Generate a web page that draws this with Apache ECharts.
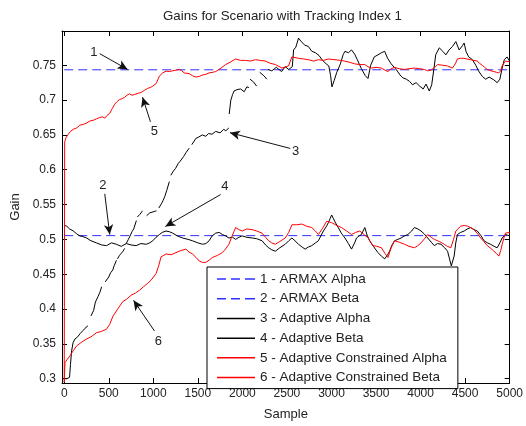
<!DOCTYPE html>
<html><head><meta charset="utf-8">
<script src="https://cdn.jsdelivr.net/npm/echarts@6/dist/echarts.min.js"></script>
<style>html,body{margin:0;padding:0;background:#fff}#c{width:526px;height:426px}</style>
</head><body><div id="c"></div>
<script>
const titleText = 'Gains for Scenario with Tracking Index 1';
const xTicks = [0,500,1000,1500,2000,2500,3000,3500,4000,4500,5000];
const yTicks = [0.3,0.35,0.4,0.45,0.5,0.55,0.6,0.65,0.7,0.75];
const seriesNames = ['1 - ARMAX Alpha','2 - ARMAX Beta','3 - Adaptive Alpha','4 - Adaptive Beta','5 - Adaptive Constrained Alpha','6 - Adaptive Constrained Beta'];

const armaxAlpha = [[0,0.7435],[5000,0.7435]];
const armaxBeta = [[0,0.5054],[5000,0.5054]];

const adaptiveAlpha = [
[0,0.300],[30,0.300],[60,0.302],[70,0.320],[83,0.340],[100,0.352],[121,0.357],[150,0.360],[180,0.365],[210,0.369],[230,0.372],[266,0.376],[280,'-'],
[300,0.390],[330,0.398],[350,0.410],[380,0.418],[400,0.424],[420,0.432],[440,'-'],
[460,0.439],[500,0.446],[520,0.452],[545,0.456],[560,0.462],[586,0.470],[593,'-'],
[598,0.472],[620,0.477],[640,0.480],[660,0.483],[678,0.487],[690,'-'],
[695,0.494],[720,0.500],[740,0.505],[760,0.511],[780,0.515],[810,0.527],[816,'-'],
[820,0.532],[850,0.536],[879,0.541],[900,'-'],
[925,0.534],[960,0.538],[980,0.537],[1010,0.540],[1035,0.541],[1050,'-'],
[1062,0.545],[1090,0.551],[1110,0.556],[1130,0.562],[1150,0.570],[1180,0.583],[1190,'-'],
[1196,0.592],[1225,0.598],[1250,0.602],[1280,0.609],[1300,0.612],[1340,0.619],[1369,0.625],[1403,0.631],[1420,'-'],
[1432,0.636],[1478,0.645],[1510,0.647],[1550,0.650],[1590,0.648],[1620,0.652],[1660,0.651],[1700,0.655],[1750,0.653],[1790,0.658],[1814,0.656],[1848,0.660],[1849,'-'],
[1852,0.680],[1870,0.700],[1890,0.708],[1906,0.713],[1940,0.715],[1980,0.716],[2020,0.712],[2050,0.719],[2073,0.718],[2080,'-'],
[2086,0.730],[2125,0.726],[2160,0.720],[2180,'-'],
[2194,0.740],[2240,0.735],[2275,0.730],[2283,'-'],
[2288,0.744],[2330,0.742],[2380,0.747],[2400,0.745],[2440,0.741],[2480,0.748],[2520,0.744],[2560,0.748],
[2575,0.772],[2600,0.776],[2630,0.789],[2660,0.784],[2700,0.779],[2740,0.777],[2780,0.770],[2820,0.768],[2860,0.764],[2900,0.757],[2940,0.752],[2970,0.749],[2990,0.735],[3005,0.719],[3030,0.728],[3060,0.740],[3100,0.752],[3130,0.765],[3151,0.770],[3190,0.768],[3225,0.772],[3260,0.766],[3290,0.758],[3336,0.745],[3380,0.735],[3410,0.731],[3440,0.750],[3480,0.762],[3522,0.765],[3560,0.768],[3597,0.770],[3630,0.760],[3670,0.752],[3726,0.744],[3770,0.736],[3801,0.732],[3840,0.730],[3875,0.727],[3910,0.722],[3950,0.725],[3990,0.720],[4030,0.716],[4061,0.723],[4098,0.713],[4125,0.722],[4150,0.745],[4170,0.765],[4210,0.775],[4250,0.770],[4284,0.765],[4320,0.772],[4358,0.777],[4396,0.784],[4433,0.772],[4470,0.778],[4489,0.782],[4510,0.770],[4540,0.762],[4582,0.758],[4620,0.750],[4650,0.742],[4693,0.734],[4730,0.730],[4770,0.733],[4823,0.729],[4860,0.725],[4890,0.730],[4916,0.746],[4940,0.758],[4970,0.762],[5000,0.756]
];

const adaptiveBeta = [
[0,0.520],[28,0.519],[60,0.515],[102,0.512],[140,0.508],[176,0.505],[210,0.504],[251,0.502],[300,0.498],[362,0.495],[420,0.492],[474,0.491],[530,0.495],[585,0.493],[640,0.490],[697,0.494],[750,0.492],[808,0.491],[860,0.494],[920,0.493],[960,0.495],[994,0.498],[1030,0.503],[1069,0.507],[1100,0.510],[1143,0.512],[1180,0.511],[1217,0.509],[1270,0.505],[1329,0.502],[1390,0.500],[1440,0.498],[1500,0.495],[1552,0.493],[1590,0.494],[1626,0.498],[1660,0.505],[1701,0.509],[1740,0.510],[1775,0.507],[1810,0.505],[1849,0.502],[1890,0.503],[1924,0.500],[1960,0.503],[1998,0.505],[2050,0.503],[2110,0.502],[2160,0.501],[2221,0.498],[2260,0.492],[2295,0.488],[2330,0.485],[2370,0.483],[2420,0.488],[2481,0.493],[2520,0.498],[2556,0.502],[2590,0.498],[2630,0.493],[2670,0.489],[2704,0.486],[2740,0.489],[2778,0.491],[2820,0.495],[2853,0.498],[2880,0.505],[2909,0.512],[2940,0.518],[2965,0.524],[2985,0.530],[3002,0.535],[3040,0.525],[3076,0.517],[3110,0.509],[3151,0.502],[3190,0.494],[3225,0.486],[3260,0.495],[3281,0.502],[3310,0.505],[3336,0.507],[3374,0.517],[3400,0.506],[3429,0.498],[3470,0.490],[3522,0.481],[3560,0.476],[3597,0.472],[3630,0.478],[3652,0.483],[3680,0.492],[3708,0.498],[3745,0.500],[3782,0.502],[3820,0.505],[3857,0.507],[3900,0.512],[3931,0.517],[3970,0.515],[4005,0.512],[4040,0.508],[4080,0.502],[4120,0.496],[4154,0.491],[4190,0.494],[4229,0.493],[4270,0.488],[4303,0.483],[4325,0.472],[4345,0.462],[4377,0.476],[4395,0.495],[4414,0.507],[4450,0.510],[4489,0.512],[4525,0.515],[4563,0.517],[4600,0.514],[4637,0.512],[4680,0.505],[4712,0.498],[4750,0.495],[4786,0.493],[4825,0.490],[4860,0.488],[4890,0.495],[4916,0.502],[4953,0.507],[5000,0.505]
];

const constrainedAlpha = [
[0,0.295],[5,0.640],[20,0.646],[45,0.651],[70,0.655],[100,0.658],[140,0.660],[175,0.664],[213,0.665],[250,0.667],[290,0.670],[325,0.671],[360,0.673],[399,0.675],[430,0.676],[455,0.674],[480,0.678],[511,0.681],[540,0.688],[566,0.694],[595,0.698],[622,0.701],[650,0.702],[678,0.704],[705,0.707],[734,0.709],[760,0.707],[790,0.708],[808,0.7075],[835,0.710],[864,0.711],[900,0.714],[938,0.717],[965,0.718],[994,0.720],[1031,0.7236],[1050,0.729],[1068,0.7344],[1085,0.737],[1105,0.739],[1143,0.7415],[1180,0.741],[1217,0.742],[1255,0.743],[1291,0.744],[1320,0.742],[1347,0.739],[1403,0.738],[1440,0.735],[1478,0.733],[1515,0.734],[1552,0.736],[1590,0.737],[1626,0.739],[1670,0.740],[1701,0.741],[1760,0.746],[1812,0.751],[1870,0.755],[1924,0.759],[1980,0.757],[2035,0.757],[2090,0.756],[2147,0.758],[2200,0.757],[2258,0.756],[2310,0.753],[2370,0.751],[2444,0.746],[2518,0.749],[2540,0.750],[2555,0.762],[2630,0.760],[2690,0.759],[2741,0.758],[2800,0.756],[2853,0.758],[2910,0.757],[2965,0.759],[3039,0.758],[3100,0.757],[3151,0.756],[3210,0.754],[3262,0.752],[3320,0.751],[3374,0.751],[3410,0.748],[3448,0.746],[3500,0.747],[3560,0.746],[3600,0.743],[3634,0.741],[3670,0.745],[3708,0.747],[3760,0.745],[3820,0.744],[3870,0.745],[3931,0.746],[3990,0.745],[4043,0.744],[4080,0.742],[4117,0.743],[4160,0.747],[4191,0.751],[4250,0.750],[4302,0.749],[4358,0.746],[4390,0.752],[4413,0.759],[4450,0.760],[4487,0.760],[4520,0.759],[4562,0.758],[4600,0.757],[4636,0.756],[4660,0.753],[4692,0.750],[4720,0.747],[4747,0.744],[4790,0.742],[4822,0.741],[4850,0.740],[4877,0.739],[4900,0.742],[4915,0.749],[4935,0.753],[4952,0.756],[5000,0.755]
];

const constrainedBeta = [
[0,0.295],[8,0.323],[30,0.327],[65,0.333],[100,0.340],[139,0.347],[190,0.352],[251,0.357],[300,0.360],[362,0.366],[420,0.368],[474,0.371],[510,0.378],[548,0.390],[600,0.400],[660,0.411],[700,0.414],[753,0.420],[800,0.423],[845,0.427],[890,0.432],[938,0.437],[985,0.443],[1031,0.451],[1060,0.462],[1087,0.475],[1143,0.479],[1200,0.478],[1254,0.481],[1310,0.484],[1366,0.486],[1400,0.482],[1440,0.479],[1480,0.474],[1515,0.469],[1550,0.467],[1589,0.467],[1625,0.470],[1663,0.474],[1720,0.477],[1775,0.481],[1810,0.486],[1849,0.493],[1885,0.505],[1924,0.517],[1960,0.514],[1998,0.512],[2050,0.515],[2110,0.514],[2160,0.512],[2221,0.509],[2260,0.503],[2295,0.498],[2330,0.495],[2370,0.493],[2420,0.497],[2481,0.502],[2520,0.510],[2556,0.521],[2610,0.521],[2667,0.522],[2720,0.519],[2778,0.517],[2820,0.512],[2853,0.507],[2900,0.516],[2946,0.526],[3002,0.524],[3060,0.520],[3113,0.517],[3170,0.512],[3225,0.507],[3270,0.510],[3318,0.512],[3365,0.507],[3411,0.502],[3440,0.496],[3467,0.491],[3510,0.490],[3560,0.488],[3600,0.480],[3634,0.474],[3670,0.488],[3708,0.498],[3760,0.496],[3820,0.493],[3870,0.490],[3931,0.488],[3970,0.491],[4005,0.495],[4045,0.501],[4080,0.507],[4120,0.503],[4154,0.500],[4210,0.497],[4266,0.493],[4300,0.490],[4340,0.488],[4370,0.500],[4396,0.512],[4451,0.519],[4490,0.520],[4526,0.519],[4560,0.517],[4600,0.514],[4640,0.508],[4675,0.502],[4710,0.497],[4749,0.491],[4790,0.487],[4823,0.483],[4850,0.480],[4879,0.476],[4900,0.484],[4916,0.493],[4935,0.502],[4953,0.509],[5000,0.510]
];

const annotLabels = ['1','2','3','4','5','6'];
const annotLabelPos = [[332,0.768],[433,0.578],[2596,0.6262],[1804,0.5766],[1013,0.6547],[1057,0.354]];
const annotTail = [[399,0.7666],[455,0.5654],[2537,0.6306],[1756,0.5644],[968,0.6688],[1013,0.3685]];
const annotTip = [[712,0.7440],[511,0.5069],[1860,0.6532],[1135,0.5186],[879,0.7042],[778,0.4125]];

const FONT = "'Liberation Sans', Arial, Helvetica, sans-serif";
const TXT = '#222';
const DASH_ICON = 'path://M0,0h9v1h-9zM14,0h9v1h-9zM28,0h10v1h-10z';

const chart = echarts.init(document.getElementById('c'), null, {renderer:'canvas'});

function lineSeries(name, data, color, dashed, z){
  return {
    name, type:'line', data, showSymbol:false, symbol:'none', connectNulls:false,
    lineStyle:{color, width:1, type: dashed ? [9,5] : 'solid', cap:'butt'},
    itemStyle:{color}, z, animation:false, silent:true, clip:false
  };
}

const series = [
  lineSeries(seriesNames[0], armaxAlpha, '#3030ff', true, 2),
  lineSeries(seriesNames[1], armaxBeta, '#3131ff', true, 2),
  lineSeries(seriesNames[2], adaptiveAlpha, '#000000', false, 3),
  lineSeries(seriesNames[3], adaptiveBeta, '#010101', false, 3),
  lineSeries(seriesNames[4], constrainedAlpha, '#ff0000', false, 4),
  lineSeries(seriesNames[5], constrainedBeta, '#fe0101', false, 4)
];

series.push({
  name:'annotations', type:'line', data:[], showSymbol:false, symbol:'none',
  lineStyle:{opacity:0, width:0}, itemStyle:{color:'#000'}, z:7, silent:true, animation:false,
  markLine:{
    silent:true, animation:false, symbol:['none','arrow'],
    lineStyle:{color:'#111', width:1, type:'solid'},
    label:{show:false},
    data: annotTail.map((t,i)=>[
      {coord:t, symbol:'none'},
      {coord:annotTip[i], symbol:'arrow', symbolSize:[7,10]}
    ])
  },
  markPoint:{
    silent:true, animation:false,
    symbol:'circle', symbolSize:1, itemStyle:{color:'rgba(0,0,0,0)'},
    label:{show:true, position:'inside', color:TXT, fontSize:13, fontFamily:FONT},
    data: annotLabels.map((t,i)=>({coord:annotLabelPos[i], value:t, label:{formatter:t}}))
  }
});

const option = {
  backgroundColor:'#fff',
  animation:false,
  title:{text:titleText, left:163, top:10, padding:0,
    textStyle:{fontSize:13.3, fontWeight:'normal', color:TXT, fontFamily:FONT}},
  grid:{left:62, right:13, top:31, bottom:38, containLabel:false},
  legend:{
    data: seriesNames.map((n,i)=>({name:n, icon: i<2 ? DASH_ICON : 'rect'})),
    orient:'vertical', left:207, top:267, z:8,
    itemWidth:38, itemHeight:1.5, itemGap:5.6, symbolKeepAspect:false,
    padding:[5,11,4,10],
    backgroundColor:'#fff', borderColor:'#000', borderWidth:1,
    textStyle:{fontSize:13.5, color:TXT, fontFamily:FONT, lineHeight:14.1},
    selectedMode:false
  },
  xAxis:[
    {type:'value', min:-25, max:5000, position:'bottom',
      name:'Sample', nameLocation:'middle', nameGap:25,
      nameTextStyle:{fontSize:13, color:TXT, fontFamily:FONT},
      axisLine:{show:true, onZero:false, lineStyle:{color:'#000', width:1}},
      axisTick:{show:true, inside:true, length:5, customValues:xTicks, lineStyle:{color:'#000'}},
      axisLabel:{show:true, customValues:xTicks, margin:5, fontSize:12, color:TXT, fontFamily:FONT,
        formatter:(v)=>String(v)},
      splitLine:{show:false}},
    {type:'value', min:-25, max:5000, position:'top',
      axisLine:{show:true, onZero:false, lineStyle:{color:'#000', width:1}},
      axisTick:{show:true, inside:true, length:5, customValues:xTicks, lineStyle:{color:'#000'}},
      axisLabel:{show:false}, splitLine:{show:false}}
  ],
  yAxis:[
    {type:'value', min:0.2938, max:0.7992, position:'left',
      name:'Gain', nameLocation:'middle', nameGap:29, nameRotate:90,
      nameTextStyle:{fontSize:13, color:TXT, fontFamily:FONT},
      axisLine:{show:true, onZero:false, lineStyle:{color:'#000', width:1}},
      axisTick:{show:true, inside:true, length:5, customValues:yTicks, lineStyle:{color:'#000'}},
      axisLabel:{show:true, customValues:yTicks, margin:6, fontSize:12, color:TXT, fontFamily:FONT,
        formatter:(v)=>String(v)},
      splitLine:{show:false}},
    {type:'value', min:0.2938, max:0.7992, position:'right',
      axisLine:{show:true, onZero:false, lineStyle:{color:'#000', width:1}},
      axisTick:{show:true, inside:true, length:5, customValues:yTicks, lineStyle:{color:'#000'}},
      axisLabel:{show:false}, splitLine:{show:false}}
  ],
  series
};
chart.setOption(option);
</script>
</body></html>
